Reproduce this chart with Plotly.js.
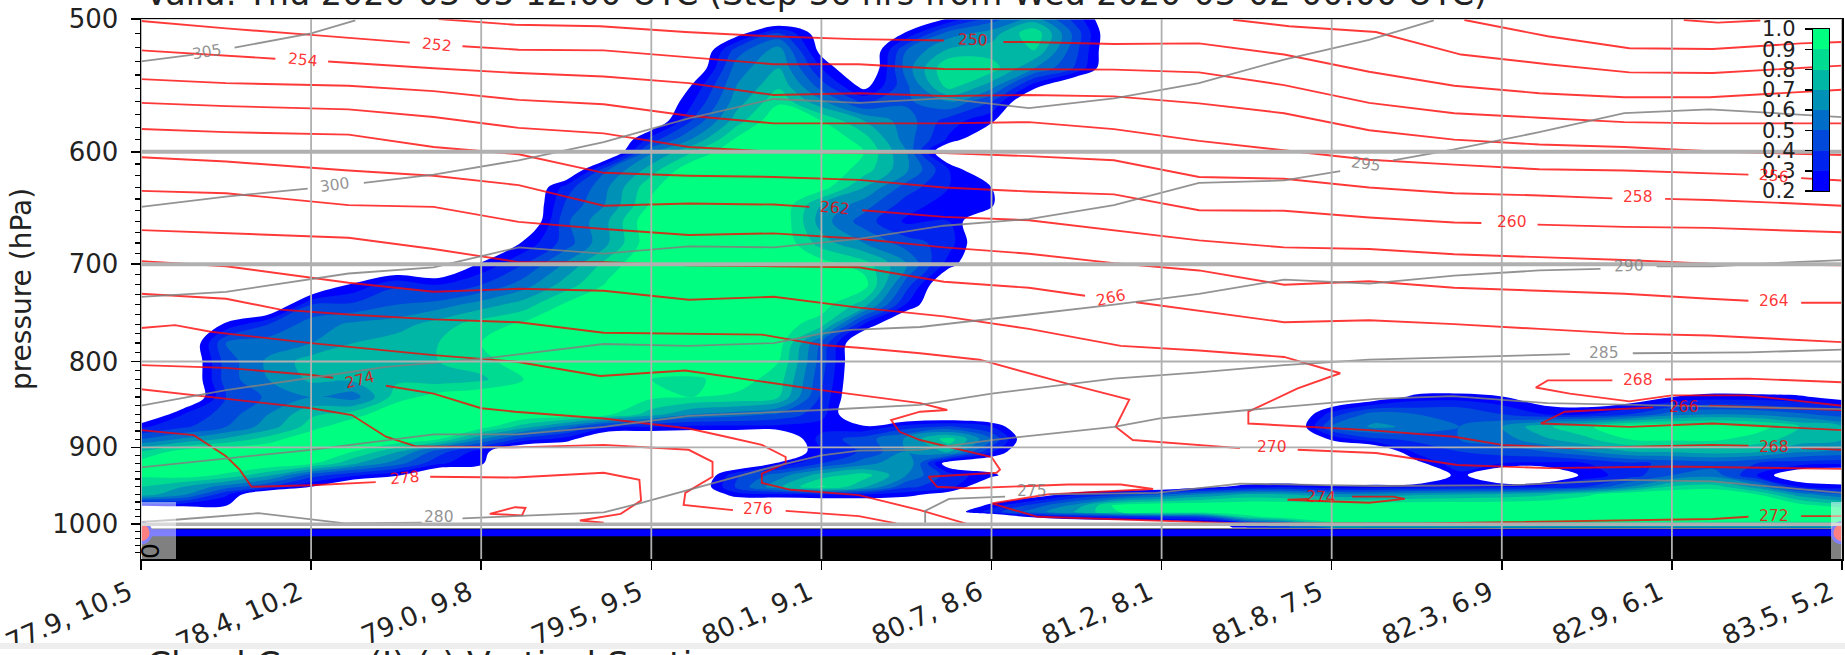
<!DOCTYPE html>
<html><head><meta charset="utf-8"><script src="https://cdn.plot.ly/plotly-3.0.1.min.js"></script>
<style>html,body{margin:0;padding:0;background:#fff;overflow:hidden}#c{width:1845px;height:655px}</style></head>
<body><div id="c"></div><script>
const tickPositions=[0,1,2,3,4,5,6,7,8,9,10];
const tickLabels=['77.9, 10.5','78.4, 10.2','79.0, 9.8','79.5, 9.5','80.1, 9.1','80.7, 8.6','81.2, 8.1','81.8, 7.5','82.3, 6.9','82.9, 6.1','83.5, 5.2'];
const pressureTicks=[500,600,700,800,900,1000];
const pressureGridWidths=[1,4,4,2,1.6,3.5];
const minorTicks=[510,520,530,540,550,560,570,580,590,610,620,630,640,650,660,670,680,690,710,720,730,740,750,760,770,780,790,810,820,830,840,850,860,870,880,890,910,920,930,940,950,960,970,980,990,1010,1020,1030,1040];
const o=n=>Array(n).fill(0);
const cloudX=[0,.25,.5,.75,1,1.25,1.5,1.75,2,2.25,2.5,2.75,3,3.25,3.5,3.75,4,4.25,4.5,4.75,5,5.25,5.5,5.75,6,6.25,6.5,6.75,7,7.25,7.5,7.75,8,8.25,8.5,8.75,9,9.25,9.5,9.75,10];
const cloudP=[500,510,522,535,548,560,575,590,600,615,630,645,660,680,700,720,740,760,780,800,820,840,860,875,890,905,920,935,950,960,975,983,990,1000,1005];
const cloudPct=[
[...o(19),22,45,65,35],
[...o(14),14,42,12,0,22,55,65,88,45],
[...o(14),45,65,15,0,50,72,75,80,42],
[...o(13),5,55,70,30,0,55,90,85,60,38],
[...o(13),22,60,78,45,15,48,85,65,25],
[...o(13),30,65,88,62,38,48,60,40],
[...o(12),5,42,75,100,90,70,55,35,22],
[...o(12),35,62,92,100,100,85,55,28],
[...o(12),58,80,100,100,100,90,60],
[...o(11),50,75,100,100,100,100,85,62,30],
[...o(10),35,60,88,100,100,100,95,70,45,30,20],
[...o(10),42,62,92,100,100,100,70,55,35,25,22],
[...o(10),48,70,100,100,100,100,65,45,28,30],
[...o(9),22,45,70,98,100,100,100,75,60,45,35],
[...o(8),22,40,62,85,100,100,100,100,95,85,60,25],
[...o(5),22,38,30,40,55,75,92,100,100,100,100,100,95,45],
[...o(4),40,42,50,55,65,75,92,100,100,100,100,100,95,75,29],
[0,0,22,40,55,62,65,75,85,92,100,100,100,100,100,95,85,30],
[0,0,50,55,60,70,75,80,90,100,100,100,100,100,100,95,48],
[0,0,45,62,75,80,78,80,85,98,100,100,100,100,100,90,45],
[0,0,45,60,72,72,78,75,78,90,100,100,90,88,95,85,42],
[0,0,40,52,60,55,85,95,100,100,100,100,92,90,88,80,38,...o(12),10,24,25,21,10,5,8,20,25,24,22,15],
[0,30,45,60,78,85,100,100,100,100,100,92,75,60,55,48,34,...o(11),35,55,50,50,40,30,30,40,55,60,58,52,45],
[28,38,50,65,85,100,100,100,95,75,55,32,30,27,27,27,25,22,35,42,30,...o(7),50,62,58,50,60,78,88,100,100,100,95,80,70],
[50,62,72,85,100,100,100,90,60,35,25,0,0,0,0,0,35,45,62,85,50,...o(7),22,38,42,50,55,68,78,90,92,92,85,75,70],
[80,95,100,100,100,90,72,45,25,0,0,0,0,0,0,0,30,42,60,72,32,...o(9),34,40,45,50,60,70,72,75,72,62,58],
[95,100,100,100,92,72,55,32,22,0,0,0,0,0,0,22,40,55,70,10,5,...o(9),15,40,30,28,30,38,42,45,40,35,32],
[92,95,88,72,45,32,22,0,0,0,0,0,0,0,38,55,75,85,60,35,24,...o(10),25,0,0,25,35,50,55,30,5,0],
[80,70,55,40,20,...o(8),5,42,68,92,72,42,35,0,...o(4),15,25,28,22,24,26,30,28,32,40,60,82,85,65,30,25],
[75,62,32,...o(11),26,28,30,30,25,12,0,10,28,38,50,62,72,70,62,62,68,70,72,78,88,100,100,100,90,65,50],
[20,22,20,...o(17),25,45,65,95,100,100,100,100,100,100,100,100,100,100,100,100,100,100,100,95,85],
[...o(19),10,35,55,72,90,100,100,100,100,100,100,100,100,100,100,100,100,100,100,100,100,100],
[...o(21),22,30,35,40,45,85,100,100,100,100,100,100,100,100,100,100,100,100,100,100],
[...o(25),10,30,50,85,85,85,85,85,85,85,85,85,85,85,85,85],
[...o(26),30,50,60,60,60,60,60,60,60,60,60,60,60,60,60]
];
const t244x=[9.07,9.27,9.52],t244p=[500.7,502.5,501];
const t246x=[7.78,8.27,8.75,9.24,9.76,10],t246p=[500.7,512,520.5,521,517,516];
const t248x=[6.42,6.75,7.26,7.76,8.27,8.75,9.24,9.76,10],t248p=[500.5,505,509,525,532,538,538.5,535,533];
const t250x=[1.75,2.2,2.7,3.2,3.7,4.2,4.72,null,5.07,5.22,5.72,6.22,6.72,7.22,7.72,8.22,8.72,9.22,9.72,10],t250p=[500,504,505,509,512,514,515,null,516,516,517.5,517,525,537.5,548,553.6,556.7,556.7,553,551];
const t252x=[0,.5,1,1.58,null,1.89,2.22,2.72,3.22,3.72,4.22,4.72,5.22,5.72,6.22,6.72,7.22,7.72,8.22,8.72,9.22,9.72,10],t252p=[501.4,506.5,511,516.5,null,519,521.5,522,527,532,532,535.5,535.7,536,538,547.5,561,569,572.5,576,577,577,577];
const t254x=[0,.5,.79,null,1.1,1.72,2.22,2.72,3.22,3.72,4.22,4.72,5.22,5.72,6.22,6.72,7.22,7.72,8.22,8.72,9.22,9.72,10],t254p=[522,526,528,null,530,535,538.5,541,546,555,553.6,555.7,555,556,561.4,569,582.5,590,594,596,599.5,601.5,602.6];
const t256x=[0,.5,1.22,1.72,2.22,2.72,3.22,3.72,4.22,4.72,5.22,5.72,6.22,6.72,7.22,7.72,8.22,8.72,9.22,9.45,null,9.76,10],t256p=[543,546,548,552,558.7,562,571,577,577,577,576,581.6,591,599,606.5,610.6,614.5,615.5,618,619,null,622,624];
const t258x=[0,.5,1.22,1.72,2.22,2.72,3.22,3.72,4.22,4.72,5.22,5.72,6.22,6.72,7.22,7.72,8.22,8.65,null,8.96,9.22,9.72,10],t258p=[561,563.5,566,572,580.6,585,596,600,601,601,603.5,607,621,622.5,630,635,637,639.5,null,640,641,644,646];
const t260x=[0,.5,1.22,1.72,2.22,2.72,3.22,3.72,4.22,4.72,5.22,5.72,6.22,6.72,7.22,7.72,7.88,null,8.21,8.72,9.22,9.72,10],t260p=[581.5,584,586,596,602,617.5,620,621,623.5,630,633.5,636,650,650.5,656.5,661,661.5,null,663,665,666,668.5,670];
const t262x=[0,.5,1.22,1.72,2.22,2.72,3.22,3.72,3.93,null,4.24,4.72,5.22,5.72,6.22,6.72,7.22,7.72,8.22,8.72,9.22,9.72,10],t262p=[604.5,608,615.5,620,628,646,644,645,647,null,650,656,659,668,677.5,684,685.5,690.5,693,696,699.4,700,701];
const t264x=[0,.5,1.22,1.72,2.22,2.72,3.22,3.72,4.22,4.72,5.22,5.72,6.22,6.72,7.22,7.72,8.22,8.72,9.22,9.45,null,9.76,10],t264p=[633,635,645.5,647,660.5,667,672.5,671,676,684,690,699,706,720,716.5,723,726,729,734,736,null,738,738];
const t266x=[0,.5,1.22,1.72,2.22,2.72,3.22,3.72,4.22,4.72,5.22,5.55,null,5.85,6.22,6.72,7.22,7.72,8.22,8.72,9.22,9.72,10],t266p=[668,671,675,685.5,698,698,701,702,703,717,723,731,null,737.5,746,758,756,760,765,770,772,776,779];
const t266bx=[10,9.22,null,8.89,8.37,8.23,8.75,9.24,10],t266bp=[855,850,null,852,857,871,875,871,879];
const t268x=[0,.5,1.22,1.72,2.22,2.72,3.22,3.72,4.22,4.72,5.22,5.76,6.22,6.72,7.05,6.8,6.51,6.51,7.22,7.72,8,8.4,9.24,9.45,null,9.76,10],t268p=[697,702,718,727,724,726,735,732,743,752,765,783,788,795,813,830,857,871,879,887,897,901,897,898,null,901,903];
const t268bx=[8.65,8.27,8.2,8.4,8.75,9,9.45,10,null,10,9.45,8.96],t268bp=[821,821,829,836,845,838,838,850,null,823,819,820];
const t270x=[0,.5,.82,1.22,1.72,2.22,2.72,3.22,3.65,4,4.22,4.58,4.93,5.45,5.81,5.73,5.83,6.46,null,6.8,7.26,7.74,8.27,9,10],t270p=[729,734,745,750,755,758,769,770,771,782,785,791,798,825,843,875,891,901,null,903,907,922,926,924,927];
const t272x=[0,.2,.41,1,1.72,2.2,2.7,3.2,4,4.58,4.74,4.58,4.41,4.46,4.58,5,5.05,5.03,4.63,4.68,4.86,5.45,5.76,5.95,5.33,5,5.27,5.9,6.47,7.53,9.24,9.45,null,9.76,10],t272p=[764,761,768,780,793,800,816,810,832,847,855,857,867,881,891,912,928,932,937,950,952,947,947,953,960,972,990,995,999,999,993,990,null,989,989];
const t274x=[0,.5,1,1.13,null,1.44,1.72,2,2.2,2.72,3.22,3.44,3.65,3.79,3.79,3.65,3.65,3.82,4.22,4.58,4.86],t274p=[804,807,815,818,null,827,836,853,857,865,877,887,897,912,920,933,945,954,961,981,1000];
const t274bx=[6.86,6.74,7.22,7.43,7.36,7.12],t274bp=[966,967,971,966,963,963];
const t276x=[0,.5,1,1.24,1.44,1.62,2.2,2.72,3.22,3.36,3.36,3.2,3.19,3.48,null,3.79,4.22,4.44],t276p=[831,842,853,861,887,899,900,897,903,918,937,958,974,981,null,982,989,999];
const t278x=[0,.31,.5,.58,.65,1,1.38,null,1.7,2.2,2.72,2.93,2.94,2.82,2.58,2.72],t278p=[879,885,911,928,950,948,944,null,937,938,932,941,968,986,995,998];
const t280x=[2.05,2.2,2.26,2.24,2.05],t280p=[986,977,978,988,986];
const th305x=[0,.31,null,.55,1,1.26],th305p=[530,525,null,520,510,501];
const th300x=[0,.5,.98,null,1.31,1.72,2.22,2.72,3.22,3.72,4.22,4.72,5.22,5.72,6.22,6.72,7.22,7.6],th300p=[647,638,631,null,626,619,607,592,573,558,561,557.5,565,557.5,546,528.6,514.6,501];
const th295x=[0,.5,1.22,1.72,2.22,2.72,3.22,3.72,4.22,4.72,5.22,5.72,6.22,6.72,7.05,null,7.36,7.72,8.22,8.72,9.22,9.72,10],th295p=[732,727,709,703,684,690,683,684,676,664,658,645.5,626,624,616,null,607,598,584,569,566,570,572];
const th290x=[0,.5,1,1.44,2,2.72,3.22,3.72,4,4.17,4.58,4.72,5.22,5.72,6.22,6.72,7.22,7.72,8.22,8.58,null,8.91,9.24,9.72,10],th290p=[850,832,818,806,797,781,783,780,770,766,763,760,750,740,729,715,719,711,706,704.5,null,702,702,698,696];
const th285x=[0,.5,1,1.72,2.22,2.72,3.22,4,4.58,5,5.72,6.22,6.72,7.22,8.4,null,8.77,9.45,10],th285p=[925,914,903,884,884,875,862,855,849,836,819,812,804,798,792,null,791,790,787];
const th280x=[0,.2,.69,1.2,1.65,null,1.89,2.72,2.93,3.22,3.72,4,4.22,4.58,5,5.72,5.99,6.51,7.26,7.71,8.27,9,10],th280p=[997,994,985,999,998,null,992,984,972,954,924,910,904,903,891,875,865,855,842,839,847,850,854];
const th275x=[4.61,4.61,4.75,5.08,null,5.34,5.97,6.46,7.26,8.06,8.72,9.24,10],th275p=[998,982,966,963,null,960,958,946,949,948,941,943,958];
const redLabelText=['252','254','250','262','256','258','260','264','266','268','268','266','270','272','274','274','276','278'];
const redLabelX=[1.74,.95,4.89,4.08,9.6,8.8,8.06,9.6,5.7,8.8,9.6,9.07,6.65,9.6,1.29,6.94,3.63,1.55];
const redLabelP=[518,529,514.6,648,620,638.5,661,736,733,820,899,851,899,989,821,963,980,939];
const redLabelAngle=[6,6,2,5,5,0,0,0,-12,0,0,0,0,0,-14,3,0,-5];
const grayLabelText=['305','300','295','290','285','280','275'];
const grayLabelX=[.39,1.14,7.2,8.75,8.6,1.75,5.24];
const grayLabelP=[523,628,610,701.5,791,990,955];
const grayLabelAngle=[-10,-8,8,-2,0,0,0];
const surfaceP=[1012,1012];
const terrainX=[0,10,10,0],terrainP=[1006,1006,1049,1049];
const cbLevels=[.25,.35,.45,.55,.65,.75,.85,.95];
const cbTicks=[.2,.3,.4,.5,.6,.7,.8,.9,1.0];
const titleText='Valid: Thu 2020-03-05 12:00 UTC (Step 36 hrs from Wed 2020-03-02 00:00 UTC)';
const sectionText='Cloud Cover (I) (-) Vertical Section';

const W=1845,H=655,L=141,R=1842,T=19,B=559;
const pw=R-L,ph=B-T;
const winter=[];for(let i=0;i<8;i++)winter.push(`rgb(0,${Math.round(255*i/7)},${Math.round(255*(1-i/14))})`);
const fillScale=[[0,'rgba(0,0,255,0)'],[.06,'rgba(0,0,255,0)']];
winter.forEach((c,i)=>fillScale.push([(i+1)/8,c]));
const FONT='"DejaVu Sans"';
const traces=[];
traces.push({type:'contour',x:cloudX,y:cloudP,z:cloudPct.map(r=>{const q=r.map(v=>v/100);while(q.length<41)q.push(0);return q;}),
 autocontour:false,contours:{start:.2,end:.9,size:.1,coloring:'fill',showlines:false},line:{width:0,smoothing:1},colorscale:fillScale,showscale:false,hoverinfo:'skip'});
traces.push({type:'scatter',x:terrainX,y:terrainP,mode:'lines',fill:'toself',fillcolor:'#000',line:{width:0},hoverinfo:'skip'});
traces.push({type:'scatter',x:[0,10],y:surfaceP,mode:'lines+markers',line:{color:'#0000ff',width:7},marker:{size:20,color:'rgb(255,0,0)',line:{color:'#0000ff',width:3}},hoverinfo:'skip'});
const red=[[t244x,t244p],[t246x,t246p],[t248x,t248p],[t250x,t250p],[t252x,t252p],[t254x,t254p],[t256x,t256p],[t258x,t258p],[t260x,t260p],[t262x,t262p],[t264x,t264p],[t266x,t266p],[t266bx,t266bp],[t268x,t268p],[t268bx,t268bp],[t270x,t270p],[t272x,t272p],[t274x,t274p],[t274bx,t274bp],[t276x,t276p],[t278x,t278p],[t280x,t280p]];
red.forEach(a=>traces.push({type:'scatter',x:a[0],y:a[1],mode:'lines',line:{color:'rgba(255,0,0,.78)',width:1.9},connectgaps:false,hoverinfo:'skip'}));
const gray=[[th305x,th305p],[th300x,th300p],[th295x,th295p],[th290x,th290p],[th285x,th285p],[th280x,th280p],[th275x,th275p]];
gray.forEach(a=>traces.push({type:'scatter',x:a[0],y:a[1],mode:'lines',line:{color:'rgba(128,128,128,.85)',width:1.8},connectgaps:false,hoverinfo:'skip'}));
tickPositions.forEach(v=>traces.push({type:'scatter',x:[v,v],y:[500,1049],mode:'lines',line:{color:'#b0b0b0',width:1.8},hoverinfo:'skip'}));
pressureTicks.forEach((v,i)=>traces.push({type:'scatter',x:[0,10],y:[v,v],mode:'lines',line:{color:'#b0b0b0',width:pressureGridWidths[i]},hoverinfo:'skip'}));
traces.push({type:'heatmap',xaxis:'x2',yaxis:'y2',x:[0],y:cbLevels,z:cbLevels.map(v=>[v]),zmin:.25,zmax:.95,colorscale:winter.map((c,i)=>[i/7,c]),showscale:false,hoverinfo:'skip',zsmooth:false});
const ann=[];
redLabelText.forEach((t,i)=>ann.push({xref:'x',yref:'y',x:redLabelX[i],y:Math.log10(redLabelP[i]),text:t,showarrow:false,textangle:redLabelAngle[i],font:{family:FONT,size:15.5,color:'rgba(255,0,0,.8)'}}));
grayLabelText.forEach((t,i)=>ann.push({xref:'x',yref:'y',x:grayLabelX[i],y:Math.log10(grayLabelP[i]),text:t,showarrow:false,textangle:grayLabelAngle[i],font:{family:FONT,size:15.5,color:'rgba(128,128,128,.85)'}}));
ann.push({xref:'paper',yref:'paper',x:(150-L)/pw,y:(B-551)/ph,xanchor:'center',yanchor:'middle',text:'0',showarrow:false,textangle:-90,font:{family:FONT,size:25,color:'#000'}});
ann.push({xref:'paper',yref:'paper',x:(145-L)/pw,y:(B-642)/ph,xanchor:'left',yanchor:'top',text:sectionText,showarrow:false,font:{family:FONT,size:34.5,color:'#222'}});
const py=y=>(B-y)/ph,px=x=>(x-L)/pw;
const shapes=[
 {type:'rect',xref:'paper',yref:'paper',x0:px(141),x1:px(176),y0:py(559),y1:py(502),fillcolor:'rgba(255,255,255,.5)',line:{width:0},layer:'above'},
 {type:'rect',xref:'paper',yref:'paper',x0:px(1831),x1:px(1842),y0:py(559),y1:py(502),fillcolor:'rgba(255,255,255,.5)',line:{width:0},layer:'above'},
 {type:'rect',xref:'paper',yref:'paper',x0:px(0),x1:px(1845),y0:py(655),y1:py(649),fillcolor:'#fff',line:{width:0},layer:'above'},
 {type:'rect',xref:'paper',yref:'paper',x0:px(0),x1:px(1845),y0:py(649),y1:py(643),fillcolor:'#eeeeee',line:{width:0},layer:'above'}
];
const layout={width:W,height:H,margin:{l:L,r:W-R,t:T,b:H-B,pad:0},paper_bgcolor:'#fff',plot_bgcolor:'#fff',showlegend:false,
 title:{text:titleText,xref:'paper',yref:'paper',x:(145-L)/pw,xanchor:'left',y:1,yanchor:'bottom',pad:{b:14},font:{family:FONT,size:33.4,color:'#222'},automargin:false},
 font:{family:FONT,color:'#222'},
 xaxis:{range:[0,10],tickmode:'array',tickvals:tickPositions,ticktext:tickLabels.map(t=>t+'\u2002'),tickangle:-24,ticks:'outside',ticklen:9,tickwidth:1.5,tickcolor:'#000',ticklabeloverflow:'allow',ticklabelstandoff:-8,tickfont:{family:FONT,size:26.5,color:'#222'},showgrid:false,zeroline:false,showline:true,linecolor:'#000',linewidth:1.5,mirror:true,automargin:false},
 yaxis:{type:'log',range:[Math.log10(1049),Math.log10(500)],tickmode:'array',tickvals:pressureTicks,ticktext:pressureTicks.map(String),ticks:'outside',ticklen:9,tickwidth:1.5,tickcolor:'#000',ticklabelstandoff:7,ticklabeloverflow:'allow',tickfont:{family:FONT,size:26,color:'#222'},showgrid:false,zeroline:false,showline:true,linecolor:'#000',linewidth:1.5,mirror:true,automargin:false,
  minor:{tickmode:'array',tickvals:minorTicks,ticks:'outside',ticklen:4.5,tickwidth:1.2,tickcolor:'#000',showgrid:false},
  title:{text:'pressure (hPa)',font:{family:FONT,size:28,color:'#222'},standoff:12}},
 xaxis2:{domain:[px(1813),px(1829)],anchor:'y2',showticklabels:false,ticks:'',showgrid:false,zeroline:false,showline:true,mirror:true,linecolor:'#000',linewidth:1.3,fixedrange:true},
 yaxis2:{domain:[py(191),py(29)],anchor:'x2',side:'left',range:[.2,1],tickmode:'array',tickvals:cbTicks,ticktext:cbTicks.map(v=>v.toFixed(1)),ticks:'outside',ticklen:7,tickwidth:1.5,tickcolor:'#000',ticklabelstandoff:5,tickfont:{family:FONT,size:21,color:'#222'},showgrid:false,zeroline:false,showline:true,mirror:true,linecolor:'#000',linewidth:1.3,fixedrange:true},
 annotations:ann,shapes:shapes};
Plotly.newPlot('c',traces,layout,{staticPlot:true,displayModeBar:false});
</script></body></html>
